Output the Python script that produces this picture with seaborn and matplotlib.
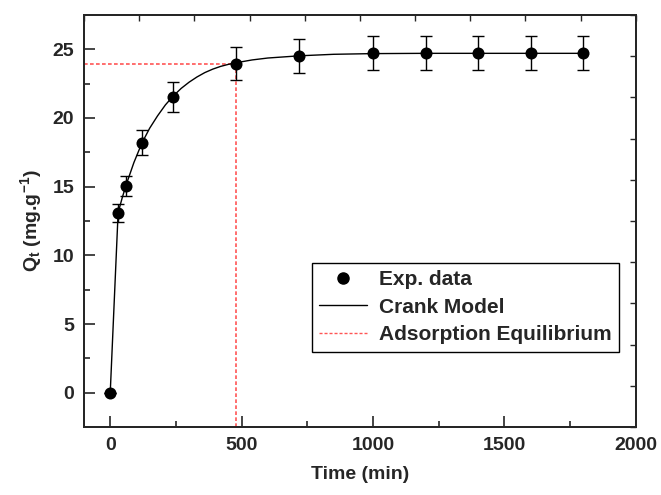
import numpy as np
import pandas as pd
import matplotlib
matplotlib.use("Agg")
import matplotlib.pyplot as plt
import seaborn as sns
from matplotlib.lines import Line2D

# --- DATA ---
time_exp = [0, 30, 60, 120, 240, 480, 720, 1000, 1200, 1400, 1600, 1800]
q_exp = [0.0, 13.1, 15.05, 18.2, 21.55, 23.95, 24.5, 24.7, 24.7, 24.7, 24.7, 24.7]
q_err = [0.0, 0.65, 0.73, 0.9, 1.09, 1.18, 1.21, 1.23, 1.23, 1.23, 1.23, 1.23]

time_model = [0, 30, 45, 60, 90, 120, 150, 180, 210, 240, 270, 300, 330, 360,
              390, 420, 450, 480, 540, 600, 720, 850, 1000, 1200, 1400, 1600, 1800]
q_model = [0.0, 13.1, 14.15, 15.1, 16.75, 18.15, 19.25, 20.15, 20.95, 21.6,
           22.15, 22.6, 22.98, 23.3, 23.55, 23.75, 23.9, 24.02, 24.22, 24.36,
           24.52, 24.63, 24.68, 24.7, 24.7, 24.7, 24.7]

eq_time = 480
eq_q = 23.9

df_exp = pd.DataFrame({"time": time_exp, "q": q_exp, "err": q_err})
df_model = pd.DataFrame({"time": time_model, "q": q_model})

# --- STYLE ---
sns.set_style("ticks")
plt.rcParams["font.family"] = ["Liberation Sans", "DejaVu Sans"]
plt.rcParams["font.weight"] = "bold"
plt.rcParams["mathtext.fontset"] = "custom"
plt.rcParams["mathtext.rm"] = "Liberation Sans:bold"
plt.rcParams["mathtext.bf"] = "Liberation Sans:bold"
plt.rcParams["mathtext.it"] = "Liberation Sans:bold"

fig = plt.figure(figsize=(6.61, 4.95), dpi=100)
ax = fig.add_axes([0.127, 0.137, 0.835, 0.833])

red = "#ff5555"
dash = (0, (2.2, 1.4))
# equilibrium guide lines
ax.plot([-100, eq_time], [eq_q, eq_q], color=red, lw=1.2, ls=dash, zorder=1)
ax.plot([eq_time, eq_time], [-2.5, eq_q], color=red, lw=1.2, ls=dash, zorder=1)

sns.lineplot(data=df_model, x="time", y="q", color="black", lw=1.0, ax=ax,
             zorder=2, legend=False)
ax.errorbar(df_exp["time"], df_exp["q"], yerr=df_exp["err"], fmt="none",
            ecolor="black", elinewidth=1.0, capsize=4, capthick=1.0, zorder=3)
sns.scatterplot(data=df_exp, x="time", y="q", color="black", s=75,
                edgecolor="black", linewidth=0, ax=ax, zorder=4, legend=False)

ax.set_xlim(-100, 2000)
ax.set_ylim(-2.5, 27.5)
ax.set_xticks([0, 500, 1000, 1500, 2000])
ax.set_xticks([250, 750, 1250, 1750], minor=True)
ax.set_yticks([0, 5, 10, 15, 20, 25])
ax.set_yticks([2.5, 7.5, 12.5, 17.5, 22.5], minor=True)
ax.tick_params(which="major", direction="in", length=8, width=1.2,
               labelsize=14, pad=7, top=False, right=False)
ax.tick_params(which="minor", direction="in", length=4, width=1.2,
               top=False, right=False)
for lab in ax.get_xticklabels() + ax.get_yticklabels():
    lab.set_fontweight("bold")
for sp in ax.spines.values():
    sp.set_visible(True)
    sp.set_linewidth(1.3)

ax.set_xlabel("Time (min)", fontsize=14, fontweight="bold", labelpad=9)
ax.set_ylabel(r"Q$_\mathbf{t}$ (mg.g$^\mathbf{-1}$)", fontsize=14,
              fontweight="bold", labelpad=6)

# top / right mirror ticks (10 even divisions, no labels)
axt = ax.twiny()
axt.set_xlim(0, 10)
axt.set_xticks(range(11))
axt.tick_params(axis="x", direction="in", length=4, width=1.0,
                labeltop=False, labelbottom=False)
axr = ax.twinx()
axr.set_ylim(0, 10)
axr.set_yticks(range(11))
axr.tick_params(axis="y", direction="in", length=4, width=1.0,
                labelright=False, labelleft=False)
for a in (axt, axr):
    for sp in a.spines.values():
        sp.set_linewidth(1.3)

handles = [
    Line2D([], [], marker="o", color="black", ls="none", markersize=8),
    Line2D([], [], color="black", lw=1.0),
    Line2D([], [], color=red, lw=1.0, ls=dash),
]
labels = ["Exp. data", "Crank Model", "Adsorption Equilibrium"]
leg = axr.legend(handles, labels, loc="upper left",
                 bbox_to_anchor=(0.4125, 0.399), frameon=True, fancybox=False,
                 edgecolor="black", framealpha=1, handlelength=2.3,
                 handletextpad=0.6, labelspacing=0.42, borderpad=0.35,
                 borderaxespad=0, prop={"size": 15, "weight": "bold"})
leg.get_frame().set_linewidth(1.0)

fig.savefig("out.png", dpi=100)
